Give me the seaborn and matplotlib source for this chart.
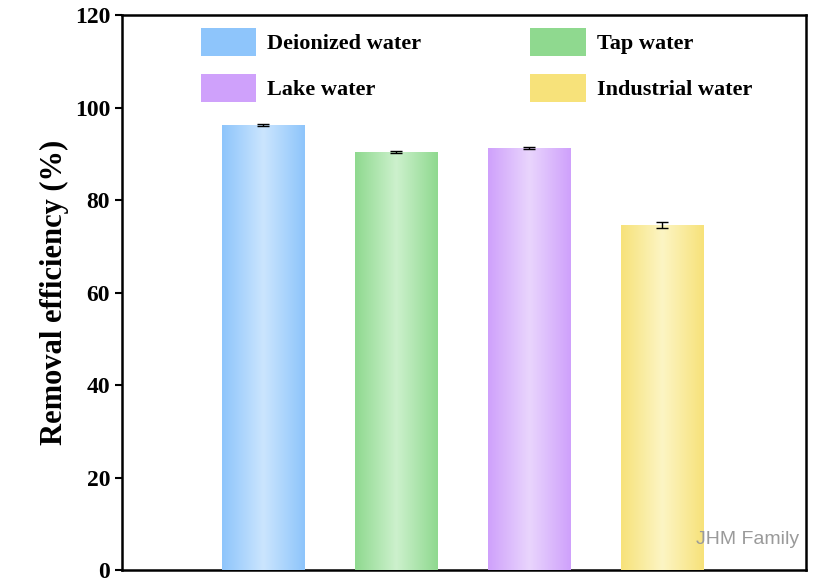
import numpy as np
import pandas as pd
import seaborn as sns
import matplotlib.pyplot as plt
from matplotlib.patches import Patch

categories = ['Deionized water', 'Tap water', 'Lake water', 'Industrial water']
removal = [96.2, 90.5, 91.2, 74.6]
errors = [0.2, 0.2, 0.2, 0.6]
edge_colors = ['#8ec5fb', '#8fd98f', '#cfa1fb', '#f7e27a']
center_colors = ['#cbe5fe', '#cdf1cd', '#e9d5fd', '#fcf5c4']

sns.set_style('ticks')
plt.rcParams['font.family'] = ['Liberation Serif', 'DejaVu Sans']
plt.rcParams['font.weight'] = 'bold'
plt.rcParams['text.color'] = 'black'
plt.rcParams['axes.labelcolor'] = 'black'
plt.rcParams['ytick.color'] = 'black'
plt.rcParams['axes.edgecolor'] = 'black'

df = pd.DataFrame({'water': categories, 'removal': removal})

fig = plt.figure(figsize=(8.18, 5.83), dpi=100)
ax = fig.add_axes([0.149, 0.022, 0.836, 0.952])

sns.barplot(data=df, x='water', y='removal', hue='water', palette=edge_colors,
            width=0.62, legend=False, ax=ax, zorder=2)

# gradient fill clipped to each bar
for bar, c0, c1 in zip(ax.patches, edge_colors, center_colors):
    a = np.array(plt.matplotlib.colors.to_rgb(c0))
    b = np.array(plt.matplotlib.colors.to_rgb(c1))
    t = 1 - np.abs(np.linspace(-1, 1, 100))
    grad = a[None, :] * (1 - t[:, None]) + b[None, :] * t[:, None]
    x0, y0 = bar.get_x(), bar.get_y()
    im = ax.imshow(grad[None, :, :], extent=[x0, x0 + bar.get_width(), y0, y0 + bar.get_height()],
                   aspect='auto', zorder=3)
    im.set_clip_path(bar)
    bar.set_edgecolor('none')

ax.errorbar(range(len(categories)), removal, yerr=errors, fmt='none', ecolor='black',
            elinewidth=1, capsize=4, capthick=1, zorder=4)

ax.set_xlim(-1.06, 4.08)
ax.set_ylim(0, 120)
ax.set_yticks(range(0, 121, 20))
ax.set_xticks([])
ax.set_xlabel('')
ax.set_ylabel('Removal efficiency (%)', fontsize=22, fontweight='bold')
ax.tick_params(axis='y', labelsize=17, width=1.5, length=5)
for s in ax.spines.values():
    s.set_visible(True)
    s.set_linewidth(1.8)

# legend is filled column by column: reorder so rows read Deionized/Tap, Lake/Industrial
order = [0, 2, 1, 3]
handles = [Patch(facecolor=edge_colors[i], edgecolor='none') for i in order]
labels = [categories[i] for i in order]
ax.legend(handles, labels, ncol=2, loc='upper left', bbox_to_anchor=(0.086, 1.012),
          frameon=False, fontsize=16, handlelength=2.5, handleheight=1.5,
          columnspacing=4.9, labelspacing=0.85, handletextpad=0.5)

ax.text(0.99, 0.055, 'JHM Family', transform=ax.transAxes, ha='right', va='center',
        fontsize=14, color='#9a9a9a', family=['Liberation Sans'], fontweight='normal')

fig.savefig('out.png', dpi=100)
